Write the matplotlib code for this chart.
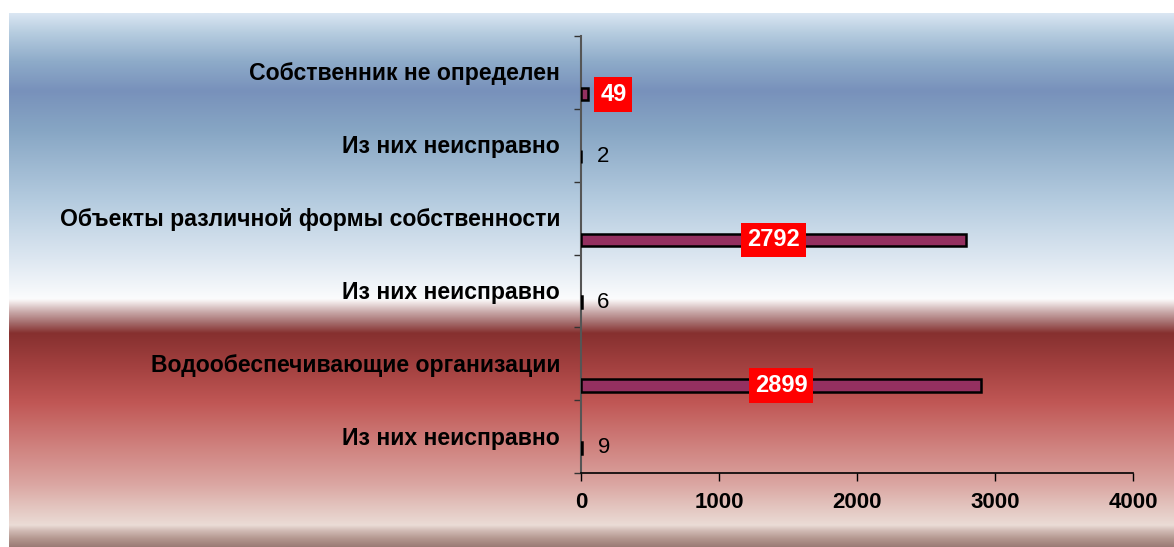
import numpy as np
import matplotlib
matplotlib.use("Agg")
import matplotlib.pyplot as plt
from matplotlib.colors import LinearSegmentedColormap

plt.rcParams['font.family'] = ['Liberation Sans', 'DejaVu Sans']

# Categories, top to bottom
categories = [
    "Собственник не определен",
    "Из них неисправно",
    "Объекты различной формы собственности",
    "Из них неисправно",
    "Водообеспечивающие организации",
    "Из них неисправно",
]
values = [49, 2, 2792, 6, 2899, 9]
is_total = [True, False, True, False, True, False]
x_ticks = [0, 1000, 2000, 3000, 4000]

W, H = 1174, 547
fig = plt.figure(figsize=(W / 100, H / 100), dpi=100)

# Background band: blue gradient on top, red gradient below
bg_stops = [
    (0.000, "#dae6f2"), (0.035, "#b7cde0"), (0.090, "#8eabc9"),
    (0.145, "#7891bb"), (0.220, "#87a6c4"), (0.350, "#b4cbdf"),
    (0.460, "#dde7f1"), (0.535, "#fbfcfd"), (0.540, "#f4eded"),
    (0.560, "#c9a9a9"), (0.580, "#a46c6c"), (0.600, "#86302f"),
    (0.660, "#a2403f"), (0.730, "#c05755"), (0.810, "#cf807d"),
    (0.880, "#daa4a0"), (0.935, "#e5cbc5"), (0.960, "#ebdcd6"),
    (0.970, "#d2bcb6"), (0.985, "#b3978f"), (1.000, "#9b7c76"),
]
cmap = LinearSegmentedColormap.from_list("bg", bg_stops, N=512)
bg_ax = fig.add_axes([9 / W, 0, 1 - 9 / W, (H - 13) / H])
bg_ax.imshow(np.linspace(0, 1, 512)[:, None], aspect="auto", cmap=cmap,
             extent=[0, 1, 0, 1], origin="upper")
bg_ax.set_axis_off()

ax = fig.add_axes([581 / W, 1 - 473 / H, (1133 - 581) / W, (473 - 36) / H])
ax.patch.set_alpha(0)

n = len(categories)
centers = np.arange(n) + 0.5
offsets = np.where(is_total, 0.30, 0.155)
ypos = centers + offsets

ax.barh(ypos, values, height=0.17, color="#943060", edgecolor="black",
        linewidth=1.8, zorder=3)

ax.set_xlim(0, 4000)
ax.set_ylim(n, 0)
ax.set_xticks(x_ticks)
ax.set_xticklabels([str(t) for t in x_ticks], fontsize=16, fontweight="bold")
ax.set_yticks(np.arange(n + 1))
ax.set_yticklabels([])
ax.tick_params(axis="y", direction="out", length=5, width=1, color="#333333")
ax.tick_params(axis="x", direction="out", length=6, width=1, pad=8)
for s in ("top", "right"):
    ax.spines[s].set_visible(False)
ax.spines["left"].set_color("#555555")
ax.spines["left"].set_linewidth(1.5)
ax.spines["bottom"].set_linewidth(1.2)

# Category names left of the axis
for c, name in zip(centers, categories):
    ax.text(-0.038, c + 0.02, name, transform=ax.get_yaxis_transform(),
            ha="right", va="center", fontsize=16.6, fontweight="bold")

# Value labels
box = dict(boxstyle="square,pad=0.25", fc="#ff0000", ec="none")
for y, v, tot in zip(ypos, values, is_total):
    if tot and v > 500:
        ax.text(v / 2, y, str(v), ha="center", va="center", fontsize=17,
                fontweight="bold", color="white", zorder=5, bbox=box)
    elif tot:
        ax.annotate(str(v), (v, y), xytext=(9, 0), textcoords="offset points",
                    ha="left", va="center", fontsize=17, fontweight="bold",
                    color="white", zorder=5, bbox=box)
    else:
        ax.annotate(str(v), (v, y), xytext=(11, 0), textcoords="offset points",
                    ha="left", va="center", fontsize=16, color="black", zorder=5)

fig.savefig("out.png", dpi=100)
